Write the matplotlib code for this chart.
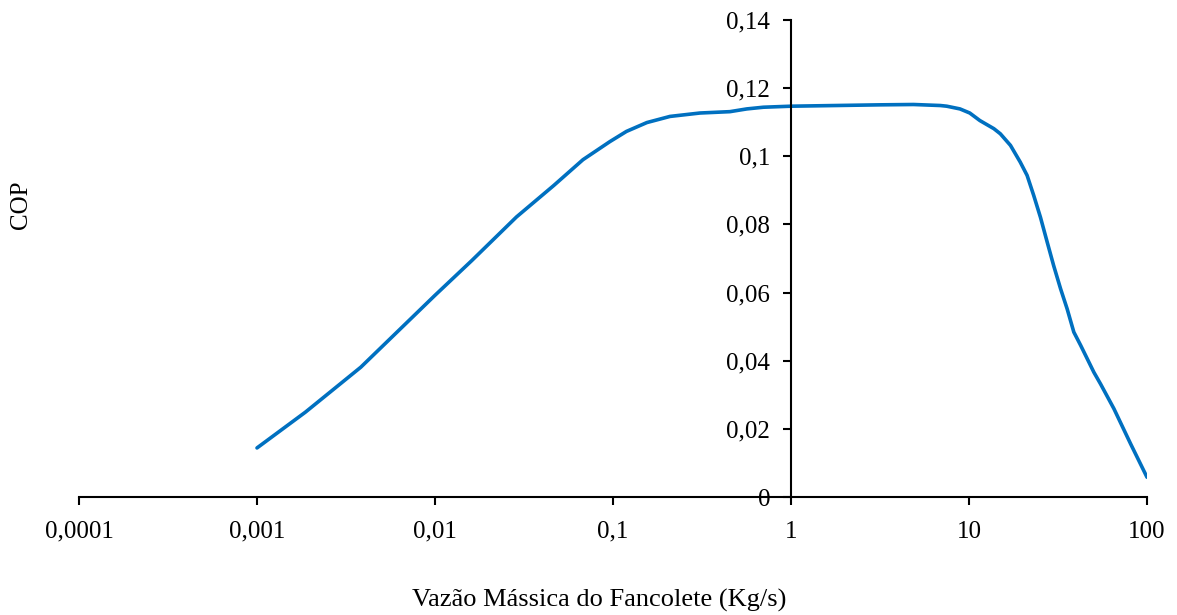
import matplotlib
matplotlib.use("Agg")
import matplotlib.pyplot as plt
from matplotlib.ticker import FixedLocator, FixedFormatter, NullLocator

plt.rcParams['font.family'] = ['Liberation Serif', 'DejaVu Serif']

# Data
vazao = [0.001, 0.00187, 0.00383, 0.01, 0.0161, 0.0287, 0.0464, 0.0678, 0.096,
         0.119, 0.155, 0.209, 0.308, 0.454, 0.564, 0.70, 1.0, 3.16, 4.88,
         6.9, 7.5, 8.9, 10.1, 11.5, 13.8, 15.0, 17.1, 19.4, 21.2, 23.1, 25.2,
         27.5, 29.9, 32.7, 35.6, 38.8, 42.4, 50.3, 54.8, 65.2, 80.9, 100.0]
cop = [0.0144, 0.0249, 0.0381, 0.0592, 0.0694, 0.0822, 0.0914, 0.0990, 0.1043,
       0.1073, 0.1099, 0.1117, 0.1127, 0.1131, 0.1139, 0.1144, 0.1147, 0.1151,
       0.1152, 0.1149, 0.1147, 0.1139, 0.1127, 0.1105, 0.1081, 0.1066, 0.1032,
       0.0983, 0.0944, 0.0885, 0.0821, 0.0748, 0.0679, 0.0611, 0.0552, 0.0484,
       0.0445, 0.0366, 0.0332, 0.0259, 0.0156, 0.0058]

x_ticks = [0.0001, 0.001, 0.01, 0.1, 1, 10, 100]
x_labels = ['0,0001', '0,001', '0,01', '0,1', '1', '10', '100']
y_ticks = [0, 0.02, 0.04, 0.06, 0.08, 0.10, 0.12, 0.14]
y_labels = ['0', '0,02', '0,04', '0,06', '0,08', '0,1', '0,12', '0,14']

fig = plt.figure(figsize=(11.77, 6.15), dpi=100)
ax = fig.add_axes([79/1177, (615-497)/615, (1147-79)/1177, (497-20)/615])

ax.plot(vazao, cop, color='#0070C0', lw=2.6, solid_capstyle='round',
        solid_joinstyle='round')

ax.set_xscale('log')
ax.set_xlim(0.0001, 100)
ax.set_ylim(0, 0.14)

ax.xaxis.set_major_locator(FixedLocator(x_ticks))
ax.xaxis.set_major_formatter(FixedFormatter(x_labels))
ax.xaxis.set_minor_locator(NullLocator())
ax.yaxis.set_major_locator(FixedLocator(y_ticks))
ax.yaxis.set_major_formatter(FixedFormatter(y_labels))

ax.spines['top'].set_visible(False)
ax.spines['right'].set_visible(False)
ax.spines['left'].set_position(('data', 1))
ax.spines['bottom'].set_position(('data', 0))
for s in ('left', 'bottom'):
    ax.spines[s].set_color('black')
    ax.spines[s].set_linewidth(1.5)

ax.tick_params(axis='both', which='major', direction='out', length=6,
               width=1.5, labelsize=18, colors='black')
ax.tick_params(axis='x', pad=11)
ax.tick_params(axis='y', pad=9)

fig.text(599/1177, 1 - 600/615, 'Vazão Mássica do Fancolete (Kg/s)',
         ha='center', va='center', fontsize=19)
fig.text(21/1177, 1 - 205/615, 'COP', ha='center', va='center',
         rotation=90, fontsize=18)

fig.savefig('out.png', dpi=100)
